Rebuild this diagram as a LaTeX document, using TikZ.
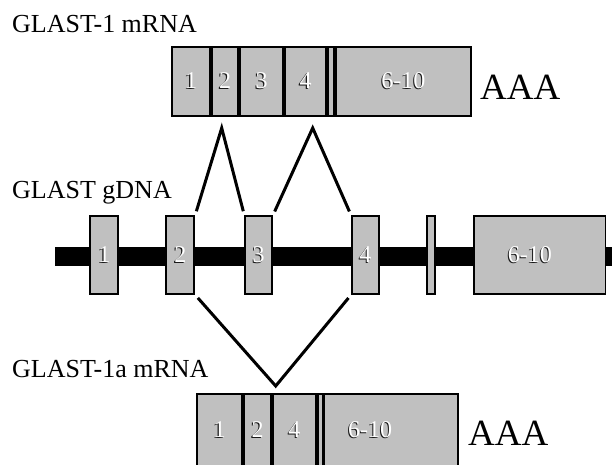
\documentclass[tikz,border=0pt]{standalone}
\usepackage{fontspec}
\setmainfont{Liberation Serif}
\usetikzlibrary{positioning}
\definecolor{exongray}{RGB}{192,192,192}
\newcommand{\emb}[1]{\makebox[0pt][l]{\hspace*{-1.1pt}\raisebox{-1pt}{\color{black!90}#1}}#1}
\tikzset{
  exon/.style={rectangle, draw=black, fill=exongray, line width=1.8pt, inner sep=0pt,
    text=white, font=\fontsize{24}{24}\selectfont},
  mexon/.style={exon, minimum height=69pt},
  gexon/.style={exon, minimum height=78pt},
  title/.style={font=\fontsize{26}{30}\selectfont, anchor=base west, inner sep=0pt},
  polya/.style={font=\fontsize{37}{40}\selectfont, anchor=base west, inner sep=0pt},
  splice/.style={line width=3pt, shorten <=4pt, shorten >=4pt}
}

\begin{document}
\begin{tikzpicture}[x=1pt, y=-1pt]
        \useasboundingbox (0,0) rectangle (612,464);
        % GLAST-1 mRNA
        \node[title] (tname) at (12,32) {GLAST-1 mRNA};
        \node[mexon, minimum width=38.1pt] (t1) at (191.05,81.5) {\emb{1}};
        \node[mexon, minimum width=26.2pt, right=0pt of t1] (t2) {\emb{2}};
        \node[mexon, minimum width=43.2pt, right=0pt of t2] (t3) {\emb{3}};
        \node[mexon, minimum width=41.2pt, right=0pt of t3] (t4) {\emb{4}};
        \node[mexon, minimum width=6.2pt, right=0pt of t4] (t5) {};
        \node[mexon, minimum width=135.1pt, right=0pt of t5] (t6) {\emb{6-10}};
        \node[polya] (tpa) at (480,99) {AAA};
        % GLAST gDNA
        \node[title] (gname) at (12,198) {GLAST gDNA};
        \fill (55,246.6) rectangle (612,265.6);
        \node[gexon, minimum width=28pt] (g1) at (104.3,255) {\emb{1}};
        \node[gexon, minimum width=28pt, right=46.2pt of g1] (g2) {\emb{2}};
        \node[gexon, minimum width=26.9pt, right=49.1pt of g2] (g3) {\emb{3}};
        \node[gexon, minimum width=26.9pt, right=78pt of g3] (g4) {\emb{4}};
        \node[gexon, minimum width=7.9pt, right=46.6pt of g4] (g5) {};
        \node[gexon, minimum width=131.5pt, right=37pt of g5,
          label={[text=white, font=\fontsize{24}{24}\selectfont, xshift=-9.7pt]center:\emb{6-10}}] (g6) {};
        % GLAST-1a mRNA
        \node[title] (bname) at (12,377) {GLAST-1a mRNA};
        \node[mexon, minimum height=72pt, minimum width=45.1pt] (b1) at (219.55,430) {\emb{1}};
        \node[mexon, minimum height=72pt, minimum width=27.2pt, right=0pt of b1] (b2) {\emb{2}};
        \node[mexon, minimum height=72pt, minimum width=42.9pt, right=0pt of b2] (b3) {\emb{4}};
        \node[mexon, minimum height=72pt, minimum width=4.8pt, right=0pt of b3] (b4) {};
        \node[mexon, minimum height=72pt, minimum width=133.8pt, right=0pt of b4,
          label={[text=white, font=\fontsize{24}{24}\selectfont, xshift=-21pt]center:\emb{6-10}}] (b5) {};
        \node[polya] (bpa) at (468,445) {AAA};
        % splicing
        \coordinate (s23) at (221.7,128);
        \coordinate (s34) at (312.7,128);
        \coordinate (s24) at (275.7,386);
        \draw[splice] (g2.north east) -- (s23) -- (g3.north west);
        \draw[splice] (g3.north east) -- (s34) -- (g4.north west);
        \draw[splice] (g2.south east) -- (s24) -- (g4.south west);
      \end{tikzpicture}
\end{document}
